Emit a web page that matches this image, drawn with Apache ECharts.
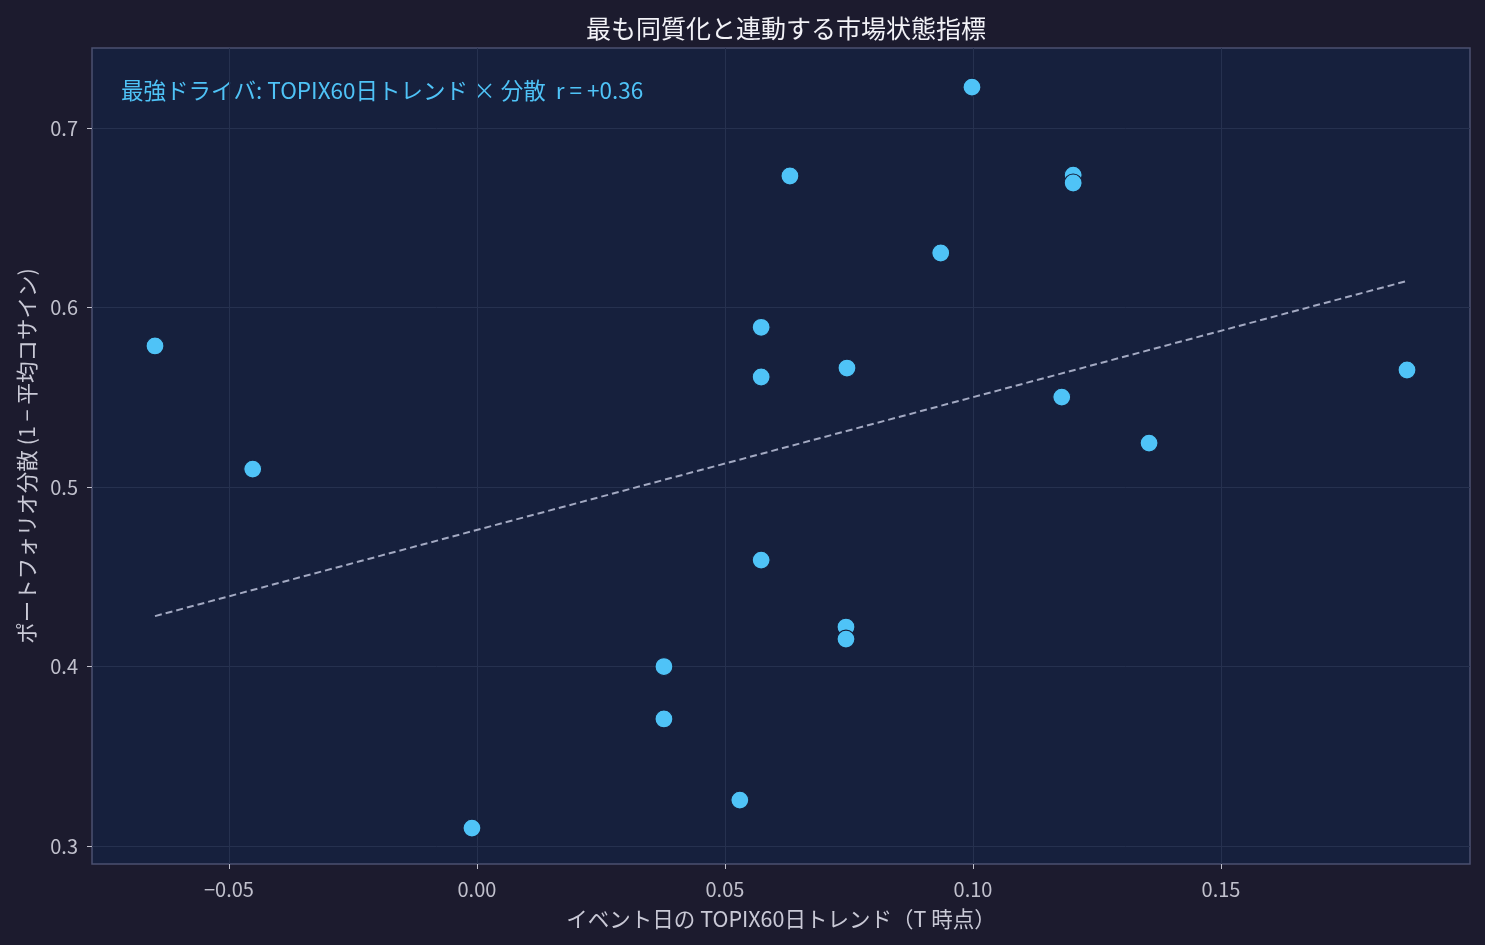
<!DOCTYPE html>
<html>
<head>
<meta charset="utf-8">
<script src="https://cdn.jsdelivr.net/npm/echarts@6/dist/echarts.min.js"></script>
<style>
  html, body { margin: 0; padding: 0; background: #1c1b2e; }
  #chart { width: 1485px; height: 945px; }
</style>
</head>
<body>
<div id="chart"></div>
<script>
// event-day TOPIX 60d trend vs portfolio dispersion
const trendX = [-0.0649, -0.0452, -0.0010, 0.0377, 0.0377, 0.0530, 0.0573, 0.0573, 0.0573, 0.0631,
  0.0746, 0.0744, 0.0744, 0.0935, 0.0998, 0.1179, 0.1202, 0.1202, 0.1355, 0.1875];
const dispY = [0.5786, 0.5100, 0.3100, 0.4000, 0.3708, 0.3256, 0.5890, 0.5613, 0.4593, 0.6733,
  0.5663, 0.4220, 0.4153, 0.6304, 0.7228, 0.5501, 0.6738, 0.6694, 0.5245, 0.5652];
// fitted line end points
const fitX = [-0.0649, 0.1875];
const fitY = [0.4281, 0.6148];
const xTicks = [-0.05, 0, 0.05, 0.10, 0.15];
const yTicks = [0.3, 0.4, 0.5, 0.6, 0.7];

const font = '"Noto Sans CJK JP", "Noto Sans", sans-serif';
const chart = echarts.init(document.getElementById('chart'));

const points = trendX.map(function (x, i) { return [x, dispY[i]]; });
const fit = fitX.map(function (x, i) { return [x, fitY[i]]; });

const option = {
  backgroundColor: '#1c1b2e',
  animation: false,
  textStyle: { fontFamily: font },
  title: {
    text: '最も同質化と連動する市場状態指標',
    left: 781,
    textAlign: 'center',
    top: 11,
    textStyle: { color: '#f2f2f7', fontSize: 25, fontWeight: 'normal', fontFamily: font }
  },
  grid: {
    left: 92, right: 15, top: 48, bottom: 81,
    show: true,
    backgroundColor: '#16203d',
    borderColor: '#4b5070',
    borderWidth: 1.5
  },
  graphic: [{
    type: 'text',
    left: 121,
    top: 79,
    style: {
      text: '最強ドライバ: TOPIX60日トレンド × 分散  r = +0.36',
      fill: '#4fc3f7',
      font: '22.5px ' + font
    }
  }],
  xAxis: {
    type: 'value',
    min: -0.0776,
    max: 0.2002,
    name: 'イベント日の TOPIX60日トレンド（T 時点）',
    nameLocation: 'middle',
    nameGap: 44,
    nameTextStyle: { color: '#c9c9d6', fontSize: 21.5 },
    axisLine: { show: false, onZero: false },
    axisTick: {
      show: true, length: 5, customValues: xTicks,
      lineStyle: { color: '#c0c0cc' }
    },
    axisLabel: {
      customValues: xTicks,
      color: '#c0c0cc',
      fontSize: 20,
      margin: 15,
      formatter: function (v) {
        const s = Math.abs(v).toFixed(2);
        return v < 0 ? '\u2212' + s : s;
      }
    },
    splitLine: { show: true, lineStyle: { color: '#26314f', width: 1 } }
  },
  yAxis: {
    type: 'value',
    min: 0.29,
    max: 0.7446,
    name: 'ポートフォリオ分散 (1 − 平均コサイン)',
    nameLocation: 'middle',
    nameGap: 54,
    nameTextStyle: { color: '#c9c9d6', fontSize: 21.5 },
    axisLine: { show: false, onZero: false },
    axisTick: {
      show: true, length: 5, customValues: yTicks,
      lineStyle: { color: '#c0c0cc' }
    },
    axisLabel: {
      customValues: yTicks,
      color: '#c0c0cc',
      fontSize: 20,
      margin: 14,
      formatter: function (v) { return v.toFixed(1); }
    },
    splitLine: { show: true, lineStyle: { color: '#26314f', width: 1 } }
  },
  series: [{
    type: 'line',
    data: fit,
    showSymbol: false,
    lineStyle: { color: '#a3a9c2', width: 2, type: [7, 4] },
    z: 2
  }, {
    type: 'scatter',
    data: points,
    symbolSize: 18,
    itemStyle: { color: '#4fc3f7', borderColor: '#16203d', borderWidth: 1.2, opacity: 1 },
    z: 3
  }]
};
chart.setOption(option);
</script>
</body>
</html>
